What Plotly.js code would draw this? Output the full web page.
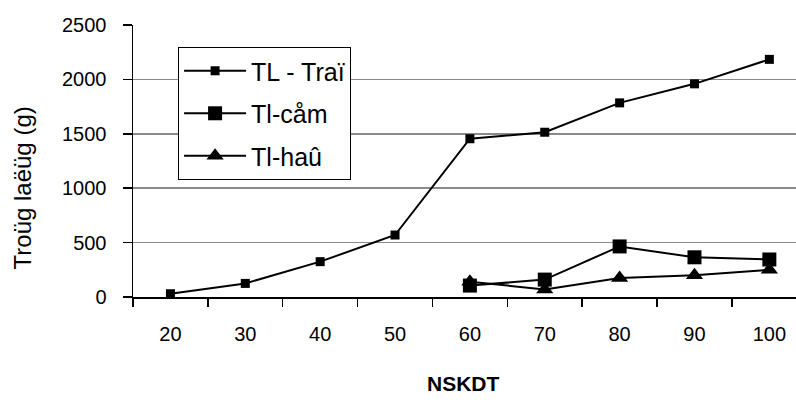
<!DOCTYPE html>
<html>
<head>
<meta charset="utf-8">
<script src="https://cdn.plot.ly/plotly-3.0.1.min.js"></script>
<style>
  html, body { margin: 0; padding: 0; background: #ffffff; overflow: hidden; }
  #chart { width: 796px; height: 402px; }
</style>
</head>
<body>
<div id="chart"></div>
<script>
// Categories (NSKDT)
const categories = ["20", "30", "40", "50", "60", "70", "80", "90", "100"];
// Series values (g)
const tlTrai = [30, 125, 325, 570, 1455, 1515, 1785, 1960, 2185];
const tlCam  = [null, null, null, null, 105, 160, 465, 365, 345];
const tlHau  = [null, null, null, null, 140, 70, 175, 200, 250];
// Tick values for the y axis
const yTicks = [0, 500, 1000, 1500, 2000, 2500];
// Text
const seriesNames = ["TL - Traï", "Tl-cåm", "Tl-haû"];
const xTitle = "NSKDT";
const yTitle = "Troüg laëüg (g)";

const FONT = "Liberation Sans, Arial, sans-serif";
const lineStyle = { color: "#000000", width: 2 };

const traces = [
  {
    x: categories, y: tlTrai, name: seriesNames[0], type: "scatter", mode: "lines+markers",
    line: lineStyle, marker: { symbol: "square", size: 9, color: "#000000" },
    legendgroup: "a", connectgaps: false, hoverinfo: "skip"
  },
  {
    x: categories, y: tlCam, name: seriesNames[1], type: "scatter", mode: "lines+markers",
    line: lineStyle, marker: { symbol: "square", size: 14, color: "#000000" },
    legendgroup: "b", connectgaps: false, hoverinfo: "skip"
  },
  {
    x: categories, y: tlHau, name: seriesNames[2], type: "scatter", mode: "lines+markers",
    line: lineStyle, marker: { symbol: "triangle-up", size: 15, color: "#000000" },
    legendgroup: "c", connectgaps: false, hoverinfo: "skip"
  }
];

const layout = {
  width: 796,
  height: 402,
  margin: { l: 133, r: 0, t: 25, b: 105, pad: 0 },
  paper_bgcolor: "#ffffff",
  plot_bgcolor: "#ffffff",
  font: { family: FONT, color: "#000000", size: 20 },
  showlegend: true,
  legend: {
    x: 0.068, y: 0.919, xanchor: "left", yanchor: "top",
    bgcolor: "#ffffff", bordercolor: "#000000", borderwidth: 1,
    font: { family: FONT, size: 25, color: "#000000" },
    traceorder: "grouped",
    tracegroupgap: 7,
    itemwidth: 62
  },
  xaxis: {
    type: "category",
    range: [-0.5, 8.356],
    showgrid: false,
    showline: true, linecolor: "#000000", linewidth: 1.5,
    ticks: "outside", tickson: "boundaries", ticklen: 8, tickcolor: "#000000", tickwidth: 1.5,
    tickfont: { family: FONT, size: 20, color: "#000000" },
    ticklabelstandoff: 18,
    zeroline: false,
    fixedrange: true
  },
  yaxis: {
    range: [0, 2501],
    tickvals: yTicks,
    ticktext: yTicks.map(String),
    showgrid: true, gridcolor: "#8a8a8a", gridwidth: 1.5,
    showline: true, linecolor: "#000000", linewidth: 1.5,
    ticks: "outside", ticklen: 9, tickcolor: "#000000", tickwidth: 1.5,
    tickfont: { family: FONT, size: 20, color: "#000000" },
    ticklabelstandoff: 12,
    zeroline: true, zerolinecolor: "#000000", zerolinewidth: 1.5,
    fixedrange: true
  },
  annotations: [
    {
      text: "<b>" + xTitle + "</b>", xref: "paper", yref: "paper",
      x: 0.498, y: -0.318, xanchor: "center", yanchor: "middle",
      showarrow: false, font: { family: FONT, size: 21, color: "#000000" }
    },
    {
      text: yTitle, xref: "paper", yref: "paper",
      x: -0.167, y: 0.40, xanchor: "center", yanchor: "middle",
      textangle: -90, showarrow: false, font: { family: FONT, size: 24, color: "#000000" }
    }
  ]
};

Plotly.newPlot("chart", traces, layout, { displayModeBar: false, staticPlot: true });
</script>
</body>
</html>
